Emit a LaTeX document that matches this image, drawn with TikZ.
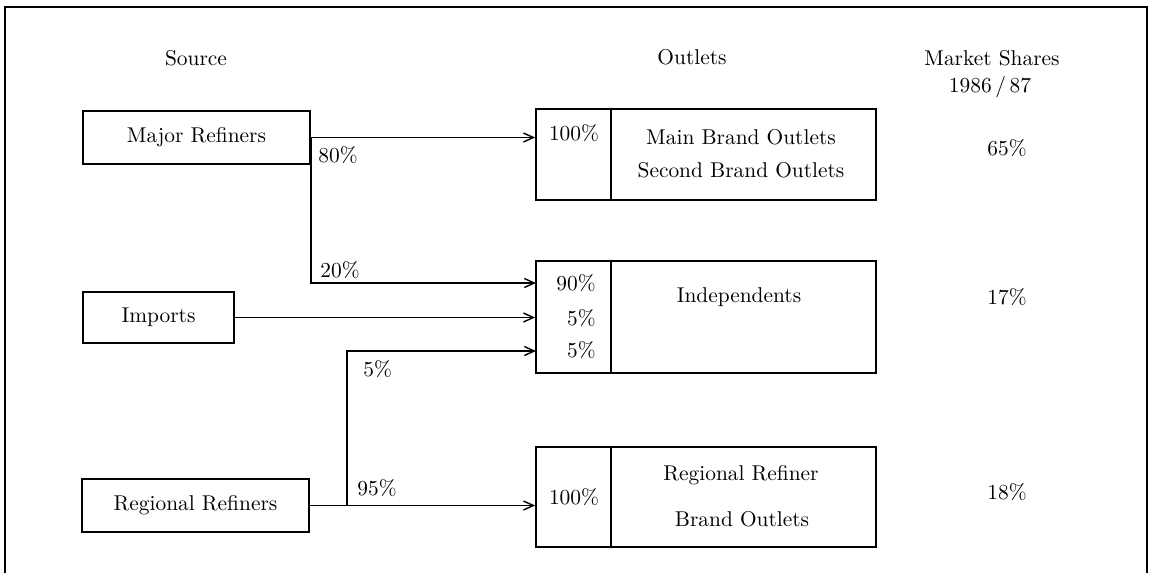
\documentclass[tikz,border=0pt]{standalone}
\usetikzlibrary{arrows.meta}
\begin{document}
\begin{tikzpicture}[x=0.5pt,y=-0.5pt,
  every node/.style={font=\fontsize{10.7}{12.5}\selectfont, inner sep=0pt},
  srcbox/.style={draw, line width=0.9pt, minimum height=26.5pt},
  cell/.style={draw, line width=0.9pt},
  arr/.style={line width=0.7pt, -{Straight Barb[length=5pt,width=4.5pt]}},
  frame/.style={line width=0.8pt}]
\useasboundingbox (0,0) rectangle (1155,573);
\draw[frame] (5,573) -- (5,7) -- (1147,7) -- (1147,573);
% headings
\node (hsrc) at (196,58) {Source};
\node (hout) at (692,57) {Outlets};
\node (hms) at (992,58) {Market Shares};
\node (hyr) at (990,87) {1986\,/\,87};
% sources
\node[srcbox, minimum width=113.5pt] (maj) at (196.5,137.5) {Major Refiners};
\node[srcbox, minimum width=75.5pt, minimum height=25.5pt] (imp) at (158.5,317.5) {Imports};
\node[srcbox, minimum width=113.5pt] (reg) at (195.5,505.5) {Regional Refiners};
% outlet boxes
\node[cell, minimum width=37.5pt, minimum height=45.5pt] (o1p) at (573.5,154.5) {};
\node[cell, minimum width=132.5pt, minimum height=45.5pt] (o1l) at (743.5,154.5) {};
\node[cell, minimum width=37.5pt, minimum height=56pt] (o2p) at (573.5,317) {};
\node[cell, minimum width=132.5pt, minimum height=56pt] (o2l) at (743.5,317) {};
\node[cell, minimum width=37.5pt, minimum height=50pt] (o3p) at (573.5,497) {};
\node[cell, minimum width=132.5pt, minimum height=50pt] (o3l) at (743.5,497) {};
% texts in outlet boxes
\node (t100a) at (574,133) {100\%};
\node (tmain) at (741,137) {Main Brand Outlets};
\node (tsec) at (741,170) {Second Brand Outlets};
\node[anchor=east] (t90) at (596,283) {90\%};
\node[anchor=east] (t5a) at (596,318) {5\%};
\node[anchor=east] (t5b) at (596,350) {5\%};
\node (tind) at (739,297) {Independents};
\node (t100c) at (574,497) {100\%};
\node (treg) at (741,475) {Regional Refiner};
\node (tbrand) at (742,519) {Brand Outlets};
% market shares
\node (m65) at (1007,148) {65\%};
\node (m17) at (1007,297) {17\%};
\node (m18) at (1007,492) {18\%};
% connector coordinates
\coordinate (a20) at (536,283);
\coordinate (a5) at (536,351);
\coordinate (j) at (347,505.5);
% connectors
\draw[arr] (maj.east) -- (maj.east -| o1p.west);
\draw[arr] (maj.east) |- (a20);
\draw[arr] (imp.east) -- (imp.east -| o2p.west);
\draw[arr] (reg.east) -- (reg.east -| o3p.west);
\draw[arr] (j) |- (a5);
% flow labels
\node[anchor=west] (l80) at (318,155) {80\%};
\node[anchor=west] (l20) at (320,270) {20\%};
\node[anchor=west] (l5) at (363,369) {5\%};
\node[anchor=west] (l95) at (357,488) {95\%};
\end{tikzpicture}
\end{document}
